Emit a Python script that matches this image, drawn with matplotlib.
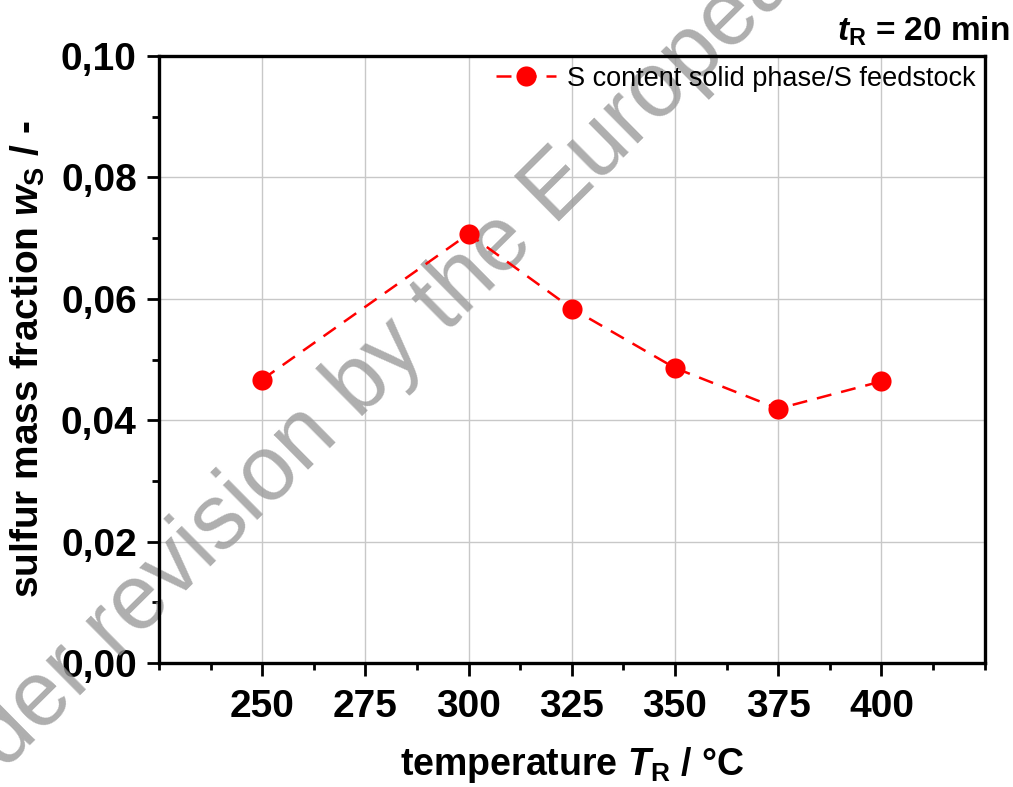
import matplotlib
matplotlib.use("Agg")
import matplotlib.pyplot as plt
from matplotlib.ticker import MultipleLocator, FuncFormatter

# data
temperature = [250, 300, 325, 350, 375, 400]
sulfur_fraction = [0.0467, 0.0707, 0.0584, 0.0486, 0.0419, 0.0464]
series_label = "S content solid phase/S feedstock"
xtick_values = [250, 275, 300, 325, 350, 375, 400]

plt.rcParams['font.family'] = ['Liberation Sans', 'DejaVu Sans']
plt.rcParams['mathtext.fontset'] = 'custom'
plt.rcParams['mathtext.rm'] = 'Liberation Sans:bold'
plt.rcParams['mathtext.bf'] = 'Liberation Sans:bold'
plt.rcParams['mathtext.it'] = 'Liberation Sans:italic:bold'

fig = plt.figure(figsize=(10.13, 7.87), dpi=100)
ax = fig.add_axes([0.157, 0.1576, 0.815, 0.7712])
ax.set_facecolor('none')

ax.plot(temperature, sulfur_fraction, color='red', lw=1.8, dashes=(6, 4),
        marker='o', ms=14.5, markeredgewidth=0, label=series_label, zorder=3)

ax.set_xlim(225, 425)
ax.set_ylim(0, 0.10)
ax.set_xticks(xtick_values)
ax.xaxis.set_minor_locator(MultipleLocator(12.5))
ax.yaxis.set_major_locator(MultipleLocator(0.02))
ax.yaxis.set_minor_locator(MultipleLocator(0.01))
ax.yaxis.set_major_formatter(FuncFormatter(lambda v, p: f"{v:.2f}".replace('.', ',')))

ax.grid(True, which='major', color='#c8c8c8', lw=1.0)
ax.set_axisbelow(True)

for s in ax.spines.values():
    s.set_linewidth(2.4)
ax.tick_params(which='major', direction='out', length=9, width=2, labelsize=28, pad=7)
ax.tick_params(which='minor', direction='out', length=5, width=2)
ax.tick_params(axis='x', pad=10)
for lbl in ax.get_xticklabels() + ax.get_yticklabels():
    lbl.set_fontweight('bold')

ax.set_xlabel(r"temperature $T_\mathrm{R}$ / °C", fontsize=27, fontweight='bold', labelpad=14)
ax.set_ylabel(r"sulfur mass fraction $w_\mathrm{S}$ / -", fontsize=28, fontweight='bold', labelpad=10)

leg = ax.legend(loc='upper right', fontsize=19.5, frameon=True, fancybox=False, framealpha=0,
                handlelength=2.2, handletextpad=0.4, borderpad=0.2, borderaxespad=0.15)
leg.get_frame().set_edgecolor('black')
leg.get_frame().set_linewidth(1.0)
leg.set_zorder(5)

fig.text(0.997, 0.948, r"$t_\mathrm{R}$ = 20 min", ha='right', va='baseline',
         fontsize=24, fontweight='bold')

# watermark, drawn between the grid and the data
ax.text(-0.078, -0.085, "Under revision by the European", transform=fig.transFigure,
        rotation=44.7, rotation_mode='anchor', ha='left', va='baseline', fontsize=66,
        color='#9a9a9a', alpha=0.8, zorder=1.5, clip_on=False)

fig.savefig("out.png", dpi=100)
